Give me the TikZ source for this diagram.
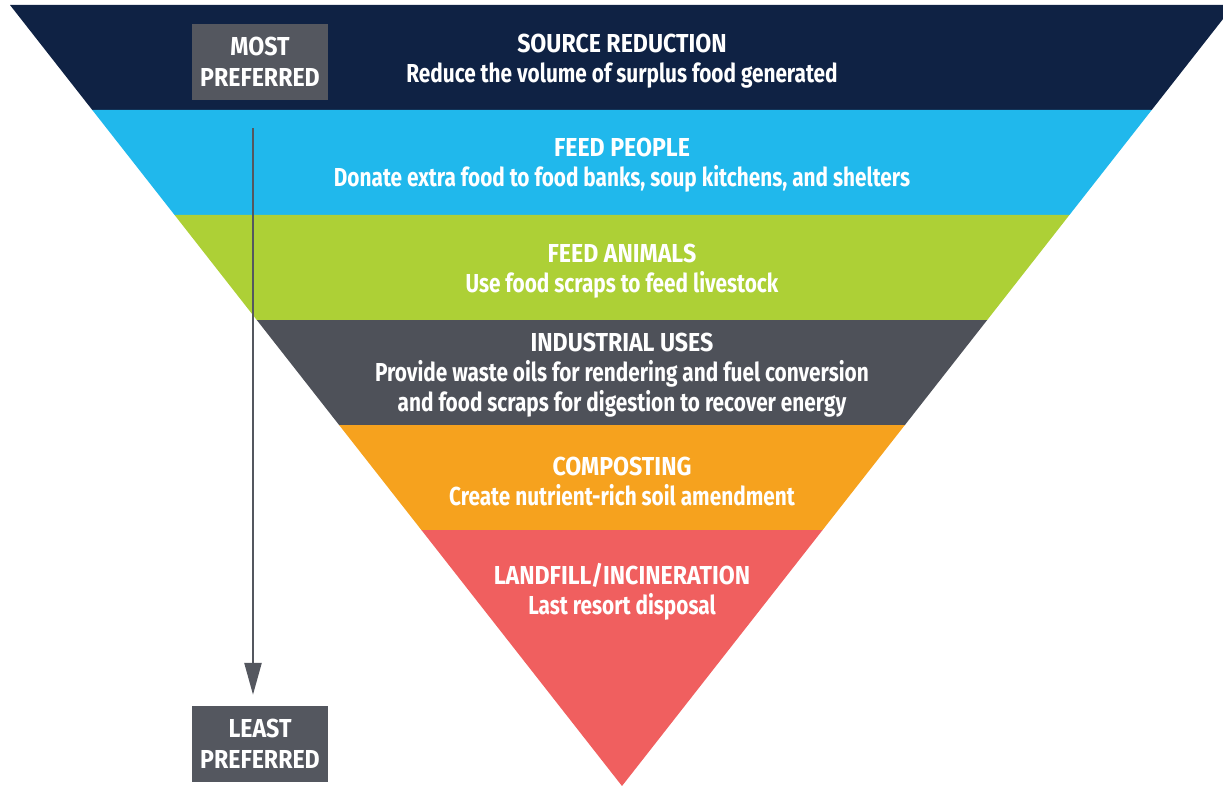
\documentclass[tikz,border=0pt]{standalone}
\usepackage{fontspec}
\setmainfont{Fira Sans}[FakeStretch=0.80]
\newfontfamily\capsfont{Fira Sans}[FakeStretch=0.89]
\usetikzlibrary{arrows.meta}
\definecolor{navy}{HTML}{0F2244}
\definecolor{skyband}{HTML}{20B8EC}
\definecolor{limeband}{HTML}{ADD036}
\definecolor{slateband}{HTML}{4E5159}
\definecolor{orangeband}{HTML}{F6A21E}
\definecolor{redband}{HTML}{F05F5F}
\definecolor{labelgray}{HTML}{54575F}
\newcommand{\bandtitle}[1]{{\capsfont\bfseries #1}}
\tikzset{
  bandtext/.style={text=white, align=center, font=\fontsize{26}{30}\selectfont\bfseries, inner sep=0pt},
  rankbox/.style={fill=labelgray, text=white, align=center, font=\capsfont\fontsize{26}{31}\selectfont\bfseries,
    minimum width=136pt, minimum height=76pt, inner sep=0pt},
  rankarrow/.style={draw=labelgray, line width=2.5pt, -{Triangle[width=17pt,length=32pt]}}
}
\begin{document}
\begin{tikzpicture}[x=1pt,y=-1pt]
\useasboundingbox (0,0) rectangle (1223,786);
\begin{scope}
\clip (0,0) rectangle (1223,786);
% stacked bands of the inverted triangle
\fill[navy]       (10,5) -- (1234,5) -- (1151.7,110) -- (92.3,110) -- cycle;
\fill[skyband]    (92.3,110) -- (1151.7,110) -- (1069.4,215) -- (174.6,215) -- cycle;
\fill[limeband]   (174.6,215) -- (1069.4,215) -- (987.2,320) -- (256.8,320) -- cycle;
\fill[slateband]  (256.8,320) -- (987.2,320) -- (904.9,425) -- (339.1,425) -- cycle;
\fill[orangeband] (339.1,425) -- (904.9,425) -- (822.6,530) -- (421.4,530) -- cycle;
\fill[redband]    (421.4,530) -- (822.6,530) -- (622,786) -- cycle;
\end{scope}

% band labels
\node[bandtext] (src) at (622,61) {\bandtitle{SOURCE REDUCTION}\\Reduce the volume of surplus food generated};
\node[bandtext] (people) at (622,165) {\bandtitle{FEED PEOPLE}\\Donate extra food to food banks, soup kitchens, and shelters};
\node[bandtext] (animals) at (622,271) {\bandtitle{FEED ANIMALS}\\Use food scraps to feed livestock};
\node[bandtext] (industry) at (622,375) {\bandtitle{INDUSTRIAL USES}\\Provide waste oils for rendering and fuel conversion\\and food scraps for digestion to recover energy};
\node[bandtext] (compost) at (622,481) {\bandtitle{COMPOSTING}\\Create nutrient-rich soil amendment};
\node[bandtext] (landfill) at (622,592) {\bandtitle{LANDFILL/INCINERATION}\\Last resort disposal};

% preference scale
\node[rankbox] (most) at (260,62) {MOST\\PREFERRED};
\node[rankbox] (least) at (260,744) {LEAST\\PREFERRED};
\draw[rankarrow] ([xshift=-7pt,yshift=-28pt]most.south) -- ([xshift=-7pt,yshift=11pt]least.north);
\end{tikzpicture}
\end{document}
